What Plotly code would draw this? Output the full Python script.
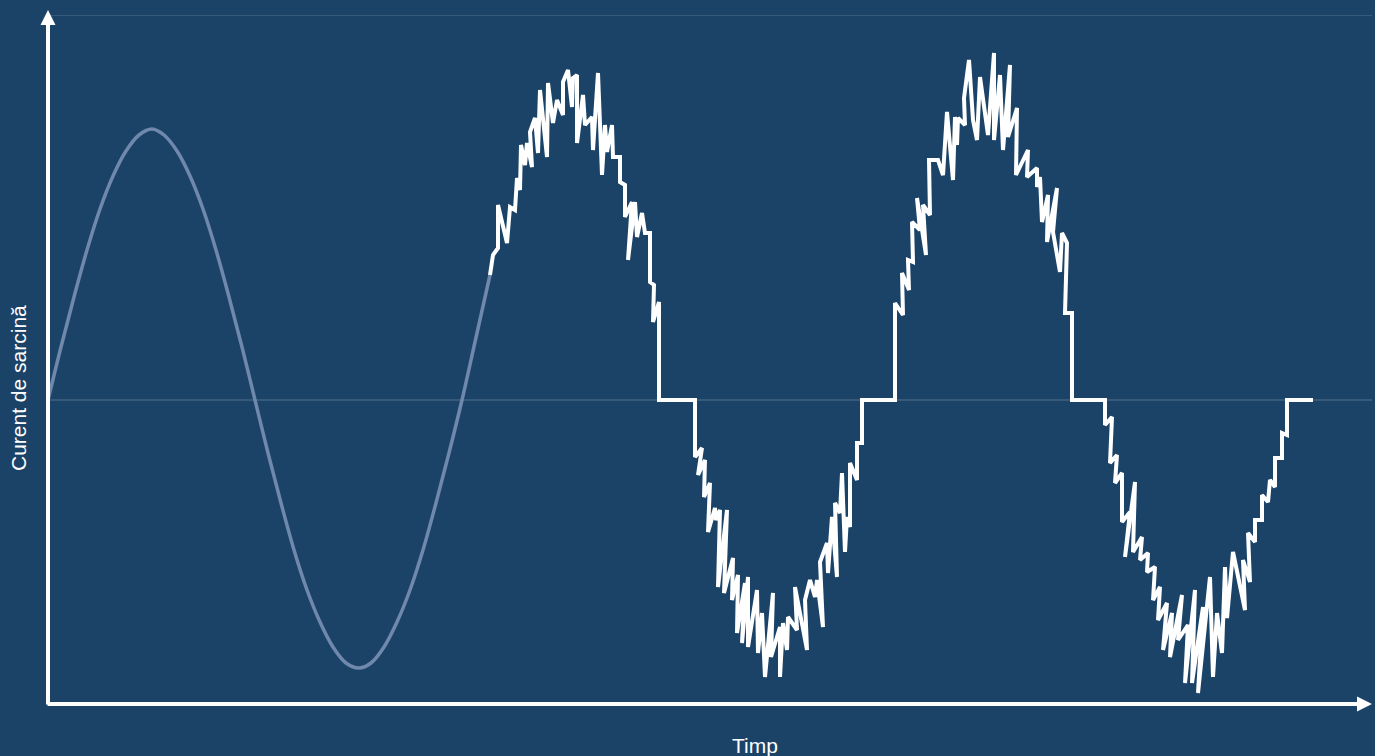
import plotly.graph_objects as go

# Chart units: time (arbitrary) and load current (arbitrary)
sine_t = [0, 13, 26, 39, 52, 65, 78, 91, 104, 116, 129, 142, 155, 168, 181, 194, 207, 220, 233, 246,
          259, 272, 285, 298, 311, 323, 336, 349, 362, 375, 388, 401, 414, 427, 442]
sine_i = [0, 53, 103, 150, 191, 224, 249, 265, 271, 265, 249, 224, 191, 150, 103, 53, 0, -53, -103, -150,
          -190, -222, -247, -263, -268, -263, -247, -222, -190, -150, -103, -53, 0, 58, 125]

peak1_t = [442, 445, 450, 450, 459, 462, 467, 469, 472, 473, 477, 479, 484, 482, 487, 490, 492, 499, 500,
           505, 509, 515, 515, 520, 524, 525, 529, 529, 535, 537, 544, 545, 550, 554, 557, 559, 564, 565,
           572, 572, 577, 577, 584, 580, 587, 589, 594, 597, 602, 602, 606, 605, 611, 611, 647]
peak1_i = [125, 145, 152, 195, 157, 193, 190, 222, 210, 255, 235, 257, 233, 268, 282, 247, 310, 243, 317,
           277, 300, 285, 318, 330, 293, 322, 325, 257, 305, 275, 283, 250, 327, 225, 275, 248, 275, 243,
           243, 218, 215, 183, 198, 140, 198, 163, 187, 167, 167, 118, 115, 78, 98, 0, 0]

trough1_t = [647, 654, 650, 657, 656, 662, 660, 667, 668, 672, 670, 679, 676, 685, 684, 690, 689, 697, 694,
             700, 700, 709, 710, 714, 717, 725, 723, 732, 732, 735, 739, 740, 749, 747, 759, 757, 762, 767,
             769, 775, 772, 779, 780, 784, 789, 787, 792, 794, 797, 799, 802, 802, 809, 809, 814, 814, 847]
trough1_i = [-57, -48, -75, -60, -97, -83, -132, -108, -120, -110, -187, -110, -193, -158, -200, -175, -233,
             -183, -243, -177, -247, -190, -253, -213, -277, -193, -257, -227, -277, -223, -250, -217, -230,
             -187, -250, -200, -180, -197, -180, -227, -162, -143, -173, -117, -177, -103, -113, -73, -152,
             -117, -127, -63, -80, -43, -43, 0, 0]

peak2_t = [847, 855, 854, 861, 860, 865, 864, 872, 869, 878, 875, 882, 881, 890, 895, 899, 905, 907, 909,
           910, 917, 916, 921, 925, 929, 932, 940, 946, 946, 952, 955, 962, 960, 969, 968, 980, 979, 989,
           989, 992, 994, 1000, 999, 1009, 1005, 1012, 1014, 1019, 1017, 1024, 1024, 1057]
peak2_i = [97, 85, 127, 110, 140, 138, 178, 170, 202, 145, 195, 185, 240, 240, 225, 288, 220, 283, 255,
           282, 275, 302, 340, 280, 260, 323, 265, 347, 260, 325, 250, 335, 263, 292, 225, 250, 223, 232,
           213, 223, 178, 205, 158, 212, 168, 128, 167, 157, 87, 87, 0, 0]

trough2_t = [1057, 1064, 1062, 1069, 1067, 1074, 1074, 1082, 1077, 1087, 1085, 1094, 1092, 1100, 1099, 1107,
             1105, 1112, 1110, 1119, 1115, 1124, 1122, 1134, 1130, 1140, 1137, 1147, 1144, 1155, 1150, 1162,
             1165, 1169, 1174, 1177, 1179, 1184, 1185, 1197, 1195, 1202, 1200, 1207, 1207, 1214, 1214, 1220,
             1222, 1227, 1227, 1234, 1234, 1239, 1239, 1265]
trough2_i = [-25, -17, -63, -55, -83, -73, -122, -112, -157, -82, -152, -137, -160, -153, -172, -167, -200,
             -187, -220, -203, -250, -213, -257, -195, -240, -225, -283, -190, -283, -207, -293, -177, -277,
             -213, -253, -167, -218, -167, -152, -210, -160, -182, -133, -142, -120, -120, -95, -102, -80,
             -87, -58, -58, -33, -35, 0, 0]

grid_levels = [0, 385]
y_range = [-304, 385]
x_range = [0, 1324]

BG = "#1b4368"
SINE_COLOR = "#6f88ab"
FONT = "Liberation Sans, Arial, sans-serif"

noisy_t = peak1_t + trough1_t + peak2_t + trough2_t
noisy_i = peak1_i + trough1_i + peak2_i + trough2_i

fig = go.Figure()
fig.add_trace(go.Scatter(x=sine_t, y=sine_i, mode="lines",
                         line=dict(color=SINE_COLOR, width=3.5, shape="spline"),
                         hoverinfo="skip", showlegend=False))
fig.add_trace(go.Scatter(x=noisy_t, y=noisy_i, mode="lines",
                         line=dict(color="white", width=4),
                         hoverinfo="skip", showlegend=False))

for g in grid_levels:
    fig.add_shape(type="line", xref="paper", x0=0, x1=1, yref="y", y0=g, y1=g,
                  line=dict(color="rgba(255,255,255,0.17)", width=1.5), layer="below")

# axis arrows
fig.add_annotation(xref="paper", yref="paper", x=1, y=0, ax=-1326, ay=0,
                   axref="pixel", ayref="pixel", text="", showarrow=True,
                   arrowhead=2, arrowsize=0.75, arrowwidth=4, arrowcolor="white")
fig.add_annotation(xref="paper", yref="paper", x=0, y=1 + 5 / 689, ax=0, ay=696,
                   axref="pixel", ayref="pixel", text="", showarrow=True,
                   arrowhead=2, arrowsize=0.75, arrowwidth=4, arrowcolor="white")

fig.add_annotation(xref="paper", yref="paper", x=(755 - 48) / 1324, y=0, yshift=-41,
                   xanchor="center", yanchor="middle", text="Timp", showarrow=False,
                   font=dict(family=FONT, size=21, color="white"))
fig.add_annotation(xref="paper", yref="paper", x=0, xshift=-30, y=(704 - 388) / 689,
                   xanchor="center", yanchor="middle", text="Curent de sarcină", textangle=-90,
                   showarrow=False,
                   font=dict(family=FONT, size=21, color="white"))

fig.update_layout(
    width=1375, height=756,
    margin=dict(l=48, r=3, t=15, b=52),
    paper_bgcolor=BG, plot_bgcolor=BG,
    xaxis=dict(range=x_range, showgrid=False, zeroline=False, showticklabels=False,
               ticks="", showline=False),
    yaxis=dict(range=y_range, showgrid=False, zeroline=False, showticklabels=False,
               ticks="", showline=False),
    showlegend=False,
)

fig.write_html("out.html", config={"displayModeBar": False},
               post_script="document.body.style.margin='0';document.body.style.overflow='hidden';")
